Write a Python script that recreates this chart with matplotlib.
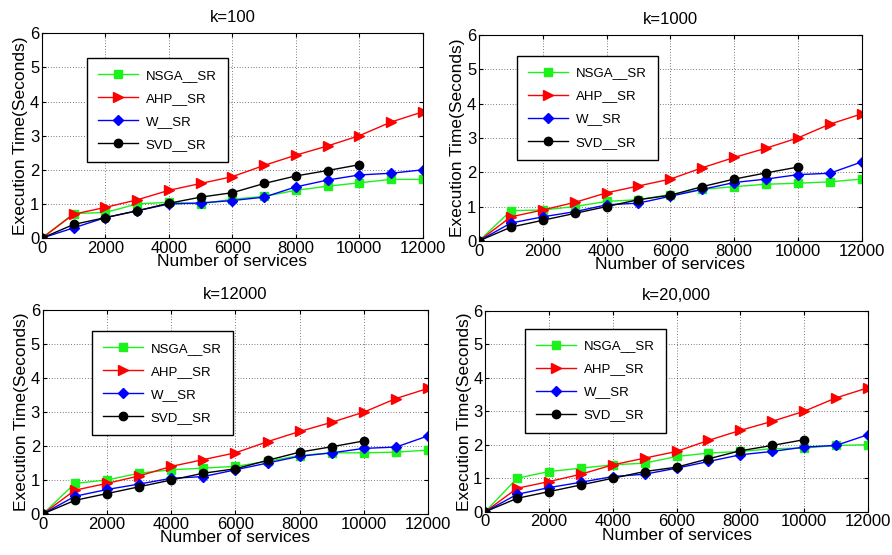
import matplotlib
matplotlib.use("Agg")
import matplotlib.pyplot as plt

plt.rcParams['font.family'] = ['Liberation Sans', 'DejaVu Sans']

services = [0, 1000, 2000, 3000, 4000, 5000, 6000, 7000, 8000, 9000, 10000, 11000, 12000]
services_svd = services[:11]

titles = ["k=100", "k=1000", "k=12000", "k=20,000"]

ahp = [0, 0.7, 0.9, 1.12, 1.4, 1.6, 1.8, 2.13, 2.43, 2.7, 3.0, 3.4, 3.7]

nsga_k100 = [0, 0.72, 0.75, 1.0, 1.05, 1.0, 1.14, 1.22, 1.4, 1.52, 1.62, 1.72, 1.72]
w_k100 = [0, 0.3, 0.6, 0.8, 1.0, 1.03, 1.1, 1.2, 1.5, 1.7, 1.85, 1.9, 2.0]
svd_k100 = [0, 0.4, 0.6, 0.8, 1.02, 1.2, 1.33, 1.6, 1.82, 1.98, 2.15]

nsga_k1000 = [0, 0.88, 0.9, 1.0, 1.15, 1.2, 1.35, 1.5, 1.58, 1.65, 1.68, 1.72, 1.8]
w_k1000 = [0, 0.52, 0.7, 0.85, 1.05, 1.1, 1.3, 1.5, 1.7, 1.8, 1.93, 1.97, 2.3]
svd_k1000 = [0, 0.4, 0.6, 0.8, 1.0, 1.2, 1.33, 1.58, 1.8, 1.98, 2.15]

nsga_k12000 = [0, 0.9, 1.0, 1.2, 1.3, 1.35, 1.4, 1.55, 1.72, 1.8, 1.8, 1.82, 1.88]
w_k12000 = [0, 0.52, 0.72, 0.88, 1.05, 1.1, 1.3, 1.5, 1.7, 1.8, 1.93, 1.97, 2.3]
svd_k12000 = [0, 0.4, 0.6, 0.8, 1.0, 1.2, 1.33, 1.58, 1.82, 1.98, 2.15]

nsga_k20000 = [0, 1.0, 1.2, 1.3, 1.4, 1.45, 1.65, 1.75, 1.8, 1.88, 1.9, 1.98, 2.0]
w_k20000 = [0, 0.52, 0.72, 0.88, 1.05, 1.12, 1.3, 1.5, 1.7, 1.8, 1.93, 1.98, 2.3]
svd_k20000 = [0, 0.4, 0.6, 0.8, 1.0, 1.2, 1.33, 1.58, 1.82, 1.98, 2.15]

nsga_all = [nsga_k100, nsga_k1000, nsga_k12000, nsga_k20000]
w_all = [w_k100, w_k1000, w_k12000, w_k20000]
svd_all = [svd_k100, svd_k1000, svd_k12000, svd_k20000]

# axes rectangles (fig fraction) and legend anchor (axes fraction)
positions = [[0.047, 0.571, 0.427, 0.369],
             [0.537, 0.566, 0.429, 0.371],
             [0.048, 0.074, 0.432, 0.367],
             [0.544, 0.078, 0.429, 0.362]]
leg_anchor = [(0.118, 0.878), (0.099, 0.898), (0.127, 0.897), (0.104, 0.91)]

fig = plt.figure(figsize=(8.92, 5.55), dpi=100)

for i in range(4):
    ax = fig.add_axes(positions[i])
    ax.plot(services, nsga_all[i], color=(0.1, 0.95, 0.1), marker='s', markersize=5.5, lw=1, label='NSGA__SR')
    ax.plot(services, ahp, color='red', marker='>', markersize=7, lw=1, label='AHP__SR')
    ax.plot(services, w_all[i], color='blue', marker='D', markersize=5, lw=1, label='W__SR')
    ax.plot(services_svd, svd_all[i], color='black', marker='o', markersize=6, lw=1, label='SVD__SR')
    ax.set_xlim(0, 12000)
    ax.set_ylim(0, 6)
    ax.set_xticks(range(0, 12001, 2000))
    ax.set_yticks(range(0, 7))
    ax.grid(True, color='black', linestyle=(0, (1, 3)), linewidth=0.5)
    ax.tick_params(direction='in', labelsize=12, length=3, top=True, right=True, pad=2)
    ax.set_xlabel("Number of services", fontsize=12.5, labelpad=-1)
    ax.set_ylabel("Execution Time(Seconds)", fontsize=12.5, labelpad=1)
    ax.set_title(titles[i], fontsize=12, pad=8)
    leg = ax.legend(loc='upper left', bbox_to_anchor=leg_anchor[i], fontsize=9.5,
                    handlelength=3.0, labelspacing=0.82, borderpad=0.85, handletextpad=0.6,
                    fancybox=False, edgecolor='black', framealpha=1, borderaxespad=0)
    leg.get_frame().set_linewidth(1)

fig.savefig("out.png", dpi=100)
